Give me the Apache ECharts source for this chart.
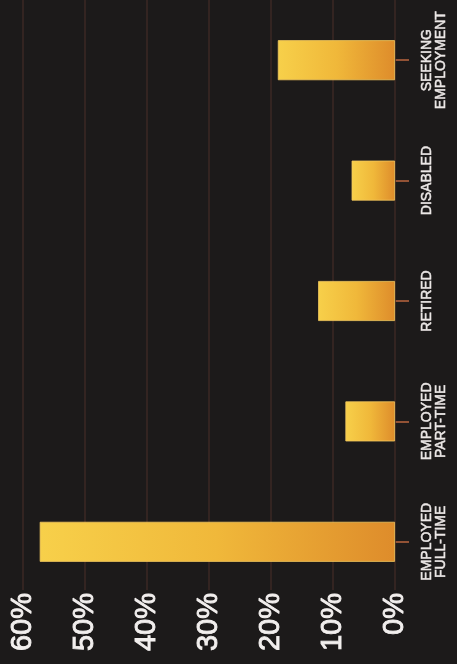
<!DOCTYPE html>
<html><head><meta charset="utf-8">
<script src="https://cdn.jsdelivr.net/npm/echarts@6/dist/echarts.min.js"></script>
<style>html,body{margin:0;padding:0;background:#1c1a1a;}#c{width:457px;height:664px;}</style>
</head><body><div id="c"></div>
<script>
const categories = ['EMPLOYED\nFULL-TIME', 'EMPLOYED\nPART-TIME', 'RETIRED', 'DISABLED', 'SEEKING\nEMPLOYMENT'];
const values = [57.3, 8, 12.4, 7, 18.9];
const tickLabels = ['0%', '10%', '20%', '30%', '40%', '50%', '60%'];

const chart = echarts.init(document.getElementById('c'));
chart.setOption({
  backgroundColor: '#1c1a1a',
  animation: false,
  grid: { left: 23, right: 62, top: -2, bottom: 62 },
  xAxis: {
    type: 'value', inverse: true, min: 0, max: 60, interval: 10,
    position: 'bottom', offset: -12,
    axisLine: { show: false },
    splitLine: { show: false },
    axisTick: { show: true, inside: true, length: 592, lineStyle: { color: '#3b2925', width: 1.5 } },
    axisLabel: {
      rotate: 90, margin: 3, color: '#f2efee', fontSize: 29,
      fontFamily: 'Liberation Sans, Arial, sans-serif',
      textBorderColor: '#f2efee', textBorderWidth: 0.9,
      formatter: (v) => tickLabels[v / 10]
    }
  },
  yAxis: {
    type: 'category', data: categories, position: 'right', offset: 22,
    axisLine: { show: false },
    axisTick: { show: true, alignWithLabel: true, interval: 0, length: 14, lineStyle: { color: '#b9653f', width: 1.5 } },
    axisLabel: {
      interval: 0, hideOverlap: false,
      rotate: 90, margin: 3, color: '#ebe7e6', fontSize: 14, lineHeight: 14,
      fontFamily: 'Liberation Sans, Arial, sans-serif',
      textBorderColor: '#ebe7e6', textBorderWidth: 0.5
    },
    splitLine: { show: false }
  },
  series: [{
    type: 'bar', data: values, barWidth: 40,
    itemStyle: {
      color: new echarts.graphic.LinearGradient(0, 0, 1, 0, [
        { offset: 0, color: '#f7d04a' },
        { offset: 0.5, color: '#f0b83a' },
        { offset: 1, color: '#de8c2b' }
      ]),
      borderColor: '#f3c860', borderWidth: 0.8
    }
  }]
});
</script></body></html>
